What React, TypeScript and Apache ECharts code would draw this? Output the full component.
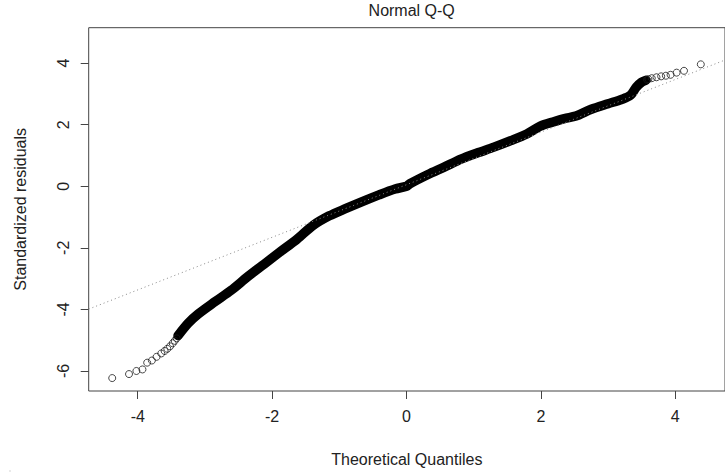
import React, { useEffect, useRef } from "react";
import * as echarts from "echarts";

// Axis ticks
const xTicks = [-4, -2, 0, 2, 4];
const yTicks = [-6, -4, -2, 0, 2, 4];
const xRange = [-4.73, 4.74];
const yRange = [-6.65, 5.15];

// Dense central band of the Q-Q points (theoretical quantile, standardized residual)
const bandX = [-3.4, -3.25, -3.1, -2.85, -2.61, -2.37, -2.12, -1.88, -1.63, -1.39, -1.15, -0.9, -0.65, -0.41, -0.17, 0, 0.05, 0.32, 0.56, 0.81, 1.05, 1.3, 1.55, 1.79, 2.0, 2.18, 2.35, 2.52, 2.75, 3.0, 3.2, 3.33, 3.42, 3.5, 3.56];
const bandY = [-4.85, -4.45, -4.15, -3.75, -3.38, -2.95, -2.53, -2.13, -1.72, -1.27, -0.96, -0.72, -0.49, -0.28, -0.09, 0.0, 0.08, 0.38, 0.62, 0.88, 1.08, 1.27, 1.48, 1.7, 1.96, 2.09, 2.2, 2.28, 2.5, 2.68, 2.82, 2.95, 3.22, 3.38, 3.44];

// Sparse tail points drawn as individual open circles
const lowTailX = [-4.38, -4.13, -4.02, -3.93, -3.86, -3.79, -3.72, -3.65, -3.6, -3.56, -3.52, -3.48, -3.45, -3.42];
const lowTailY = [-6.23, -6.1, -6.0, -5.95, -5.73, -5.66, -5.54, -5.43, -5.35, -5.28, -5.2, -5.1, -5.02, -4.94];
const highTailX = [3.58, 3.6, 3.65, 3.72, 3.79, 3.86, 3.93, 4.02, 4.13, 4.38];
const highTailY = [3.46, 3.48, 3.51, 3.54, 3.57, 3.59, 3.62, 3.69, 3.75, 3.96];

// Reference (qqline) end points
const qqLineX = [-4.73, 4.74];
const qqLineY = [-3.99, 4.1];

const zip = (xs: number[], ys: number[]) => xs.map((x, i) => [x, ys[i]]);

const FONT = "Liberation Sans, Arial, sans-serif";

export default function App() {
  const ref = useRef<HTMLDivElement>(null);
  useEffect(() => {
    if (!ref.current) return;
    const chart = echarts.init(ref.current, undefined, { renderer: "svg" });
    const gridLeft = 88.7;
    const gridTop = 27.7;
    const gridW = 646;
    const gridH = 363.3;
    chart.setOption({
      animation: false,
      backgroundColor: "#fff",
      grid: {
        left: gridLeft,
        top: gridTop,
        width: gridW,
        height: gridH,
        show: true,
        borderColor: "#444",
        borderWidth: 1,
        backgroundColor: "transparent",
      },
      xAxis: {
        type: "value",
        min: xRange[0],
        max: xRange[1],
        splitLine: { show: false },
        axisLine: { show: false, onZero: false },
        axisTick: { show: true, length: 8, customValues: xTicks, lineStyle: { color: "#444" } },
        axisLabel: {
          customValues: xTicks,
          margin: 17,
          color: "#222",
          fontSize: 16,
          fontFamily: FONT,
          formatter: (v: number) => String(v),
        },
        name: "Theoretical Quantiles",
        nameLocation: "middle",
        nameGap: 60,
        nameTextStyle: { color: "#222", fontSize: 16, fontFamily: FONT },
      },
      yAxis: {
        type: "value",
        min: yRange[0],
        max: yRange[1],
        splitLine: { show: false },
        axisLine: { show: false, onZero: false },
        axisTick: { show: true, length: 8, customValues: yTicks, lineStyle: { color: "#444" } },
        axisLabel: {
          customValues: yTicks,
          rotate: 90,
          margin: 17,
          color: "#222",
          fontSize: 16,
          fontFamily: FONT,
          formatter: (v: number) => String(v),
        },
        name: "Standardized residuals",
        nameLocation: "middle",
        nameGap: 60,
        nameTextStyle: { color: "#222", fontSize: 16, fontFamily: FONT },
      },
      graphic: [
        {
          type: "text",
          x: gridLeft + gridW / 2,
          y: 10,
          style: {
            text: "Normal Q-Q",
            textAlign: "center",
            textVerticalAlign: "middle",
            fill: "#222",
            fontSize: 16,
            fontFamily: FONT,
          },
        },
        { type: "rect", shape: { x: 9.5, y: 470.5, width: 1, height: 1 }, style: { fill: "#aaa" } },
      ],
      series: [
        {
          type: "line",
          data: zip(bandX, bandY),
          symbol: "none",
          smooth: 0.3,
          lineStyle: { color: "#000", width: 9.5, cap: "round", join: "round" },
          z: 2,
        },
        {
          type: "scatter",
          data: zip(lowTailX, lowTailY).concat(zip(highTailX, highTailY)),
          symbol: "circle",
          symbolSize: 7,
          itemStyle: { color: "rgba(0,0,0,0)", borderColor: "#1a1a1a", borderWidth: 1 },
          z: 3,
        },
        {
          type: "line",
          data: zip(qqLineX, qqLineY),
          symbol: "none",
          lineStyle: { color: "#888", width: 1, type: [1, 3] },
          z: 4,
        },
      ],
    });
    return () => chart.dispose();
  }, []);
  return (
    <div
      ref={ref}
      style={{ position: "absolute", left: 0, top: 0, width: 725, height: 475 }}
    />
  );
}
